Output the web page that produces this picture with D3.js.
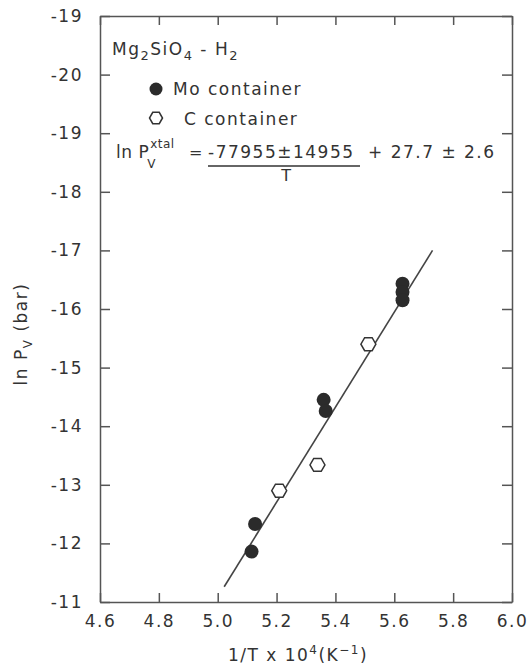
<!DOCTYPE html>
<html>
<head>
<meta charset="utf-8">
<script src="https://cdn.jsdelivr.net/npm/d3@7"></script>
<style>
  body { margin: 0; background: #fff; }
  text { font-family: "DejaVu Sans", sans-serif; fill: #333; letter-spacing: 1.5px; }
</style>
</head>
<body>
<div id="app"></div>
<script>
const WIDTH = 529
const HEIGHT = 667

// data
const moX = [5.115, 5.127, 5.360, 5.367, 5.628, 5.628, 5.628]
const moY = [-11.86, -12.33, -14.45, -14.26, -16.43, -16.29, -16.15]
const cX = [5.209, 5.339, 5.512]
const cY = [-12.90, -13.34, -15.40]
const fitX = [5.022, 5.730]
const fitY = [-11.26, -17.00]

const xTicks = [4.6, 4.8, 5.0, 5.2, 5.4, 5.6, 5.8, 6.0]
const yTicks = [-11, -12, -13, -14, -15, -16, -17, -18, -19, -20, -21]
const yTickLabels = ["-11", "-12", "-13", "-14", "-15", "-16", "-17", "-18", "-19", "-20", "-19"]

const x = d3.scaleLinear().domain([4.6, 6.0]).range([100, 512])
const y = d3.scaleLinear().domain([-11, -21]).range([602, 16])

const svg = d3.select("#app").append("svg")
  .attr("width", WIDTH)
  .attr("height", HEIGHT)

const axisColor = "#555"

function styleAxis(g) {
  g.select(".domain").attr("stroke", axisColor).attr("stroke-width", 1.5)
  g.selectAll(".tick line").attr("stroke", axisColor).attr("stroke-width", 1.5)
  g.selectAll(".tick text").attr("fill", "#333").style("font-size", "17px")
}

svg.append("g")
  .attr("transform", `translate(0, ${y(-11)})`)
  .call(d3.axisBottom(x).tickValues(xTicks).tickFormat(d3.format(".1f"))
    .tickSizeInner(-9).tickSizeOuter(0).tickPadding(13))
  .call(styleAxis)

svg.append("g")
  .attr("transform", `translate(0, ${y(-21)})`)
  .call(d3.axisTop(x).tickValues(xTicks).tickFormat("").tickSizeInner(-9).tickSizeOuter(0))
  .call(styleAxis)

svg.append("g")
  .attr("transform", `translate(${x(4.6)}, 0)`)
  .call(d3.axisLeft(y).tickValues(yTicks).tickFormat((d, i) => yTickLabels[i])
    .tickSizeInner(-10).tickSizeOuter(0).tickPadding(17))
  .call(styleAxis)

svg.append("g")
  .attr("transform", `translate(${x(6.0)}, 0)`)
  .call(d3.axisRight(y).tickValues(yTicks).tickFormat("").tickSizeInner(-10).tickSizeOuter(0))
  .call(styleAxis)

// fit line
svg.append("line")
  .attr("x1", x(fitX[0])).attr("y1", y(fitY[0]))
  .attr("x2", x(fitX[1])).attr("y2", y(fitY[1]))
  .attr("stroke", "#444")
  .attr("stroke-width", 1.6)

const hexagon = r => d3.line()(d3.range(6).map(i => [r * Math.cos(i * Math.PI / 3), r * Math.sin(i * Math.PI / 3)])) + "Z"

svg.append("g").selectAll("circle")
  .data(moX.map((v, i) => [v, moY[i]]))
  .enter()
.append("circle")
  .attr("cx", d => x(d[0]))
  .attr("cy", d => y(d[1]))
  .attr("r", 7)
  .attr("fill", "#2b2b2b")

svg.append("g").selectAll("path")
  .data(cX.map((v, i) => [v, cY[i]]))
  .enter()
.append("path")
  .attr("transform", d => `translate(${x(d[0])}, ${y(d[1])})`)
  .attr("d", hexagon(7.5))
  .attr("fill", "#fff")
  .attr("stroke", "#333")
  .attr("stroke-width", 1.5)

// title + legend
const title = svg.append("text").attr("x", 112).attr("y", 55).style("font-size", "17px")
title.append("tspan").text("Mg")
title.append("tspan").text("2").attr("dy", 5).style("font-size", "13px")
title.append("tspan").text("SiO").attr("dy", -5)
title.append("tspan").text("4").attr("dy", 5).style("font-size", "13px")
title.append("tspan").text(" - H").attr("dy", -5)
title.append("tspan").text("2").attr("dy", 5).style("font-size", "13px")

svg.append("circle").attr("cx", 156).attr("cy", 89).attr("r", 6.5).attr("fill", "#2b2b2b")
svg.append("text").attr("x", 173).attr("y", 95).style("font-size", "17px").text("Mo container")
svg.append("path").attr("transform", "translate(156, 118)").attr("d", hexagon(6.5))
  .attr("fill", "#fff").attr("stroke", "#333").attr("stroke-width", 1.5)
svg.append("text").attr("x", 184).attr("y", 125).style("font-size", "17px").text("C container")

// equation
const lnP = svg.append("text").attr("x", 116).attr("y", 158).style("font-size", "17px")
  .style("letter-spacing", "0.5px").text("ln P")
const pEnd = 116 + lnP.node().getComputedTextLength() + 1
svg.append("text").attr("x", pEnd).attr("y", 148).style("font-size", "12px")
  .style("letter-spacing", "0.5px").text("xtal")
svg.append("text").attr("x", pEnd - 3).attr("y", 168).style("font-size", "12px").text("V")
svg.append("text").attr("x", 189).attr("y", 158).style("font-size", "16px").text("=")
svg.append("text").attr("x", 208).attr("y", 158).style("font-size", "17px").text("-77955±14955")
svg.append("line").attr("x1", 208).attr("x2", 360).attr("y1", 166).attr("y2", 166)
  .attr("stroke", "#333").attr("stroke-width", 1.5)
svg.append("text").attr("x", 287).attr("y", 181).attr("text-anchor", "middle").style("font-size", "16px").text("T")
svg.append("text").attr("x", 368).attr("y", 158).style("font-size", "17px").text("+ 27.7 ± 2.6")

// axis titles
const xl = svg.append("text").attr("x", 298).attr("y", 661).attr("text-anchor", "middle").style("font-size", "17px")
xl.append("tspan").text("1/T x 10")
xl.append("tspan").text("4").attr("dy", -7).style("font-size", "12px")
xl.append("tspan").text("(K").attr("dy", 7)
xl.append("tspan").text("\u22121").attr("dy", -7).style("font-size", "12px")
xl.append("tspan").text(")").attr("dy", 7)

const yl = svg.append("text").attr("transform", "translate(27, 334) rotate(-90)")
  .attr("text-anchor", "middle").style("font-size", "17px")
yl.append("tspan").text("ln P")
yl.append("tspan").text("V").attr("dy", 5).style("font-size", "12px")
yl.append("tspan").text(" (bar)").attr("dy", -5)
</script>
</body>
</html>
